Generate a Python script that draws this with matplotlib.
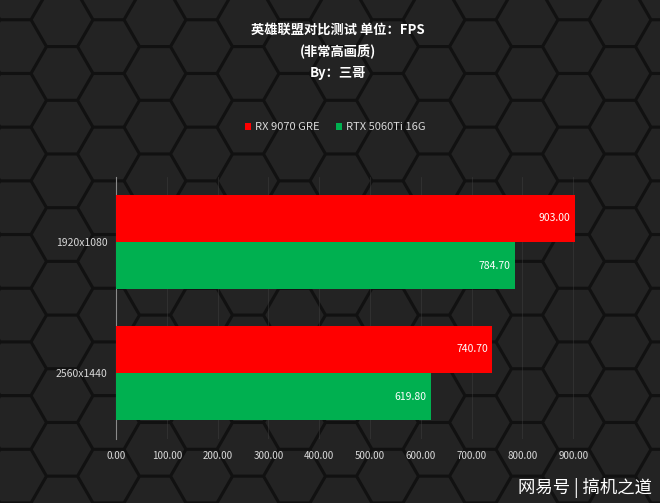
import numpy as np
import matplotlib
matplotlib.use("Agg")
import matplotlib.pyplot as plt
from matplotlib.patches import RegularPolygon

plt.rcParams['font.family'] = ['Noto Sans CJK SC', 'DejaVu Sans']

# 数据
resolutions = ['1920x1080', '2560x1440']
gpus = ['RX 9070 GRE', 'RTX 5060Ti 16G']
rx9070 = [903.00, 740.70]
rtx5060 = [784.70, 619.80]
xticks = [0, 100, 200, 300, 400, 500, 600, 700, 800, 900]

RED = '#ff0000'
GREEN = '#00b050'
TXT = '#d9d9d9'

W, H = 660, 503
fig = plt.figure(figsize=(W / 100, H / 100), dpi=100, facecolor='#111111')

# 背景蜂窝
bg = fig.add_axes([0, 0, 1, 1])
bg.set_xlim(0, W)
bg.set_ylim(0, H)
bg.axis('off')
r = 31
dx = 1.5 * r
dy = np.sqrt(3) * r
col = 0
x = -r
while x < W + 2 * r:
    off = dy / 2 if col % 2 else 0
    y = -dy + off
    while y < H + dy:
        hexa = RegularPolygon((x, y), 6, radius=r - 1.8, orientation=np.pi / 6,
                              facecolor='#232323', edgecolor='none')
        bg.add_patch(hexa)
        y += dy
    x += dx
    col += 1

# 主图
ax = fig.add_axes([116 / W, 1 - 438.5 / H, 508 / W, 262 / H])
ax.set_facecolor('none')
ypos = np.arange(len(resolutions))
h = 0.36
b1 = ax.barh(ypos - h / 2, rx9070, height=h, color=RED, label=gpus[0], zorder=3)
b2 = ax.barh(ypos + h / 2, rtx5060, height=h, color=GREEN, label=gpus[1], zorder=3)

for bars in (b1, b2):
    for bar in bars:
        v = bar.get_width()
        ax.text(v - 8, bar.get_y() + bar.get_height() / 2, f'{v:.2f}',
                ha='right', va='center', color='white', fontsize=7.5, zorder=4)

ax.set_xlim(0, 1000)
ax.set_ylim(1.5, -0.5)
ax.set_yticks(ypos)
ax.set_yticklabels(resolutions, color=TXT, fontsize=7.5)
ax.set_xticks(xticks)
ax.set_xticklabels([f'{t:.2f}' for t in xticks], color=TXT, fontsize=7)
ax.tick_params(axis='both', length=0, pad=6)
ax.tick_params(axis='x', pad=9)
ax.grid(axis='x', color='#4a4a4a', linewidth=0.5, alpha=0.5, zorder=1)
for s in ['top', 'right', 'bottom']:
    ax.spines[s].set_visible(False)
ax.spines['left'].set_color('#8a8a8a')
ax.spines['left'].set_linewidth(0.8)

# 标题
fig.text(338 / W, 1 - 30 / H, '英雄联盟对比测试 单位：FPS', ha='center', va='center',
         color='white', fontsize=9.5, fontweight='bold')
fig.text(338 / W, 1 - 52 / H, '(非常高画质)', ha='center', va='center',
         color='white', fontsize=9.5, fontweight='bold')
fig.text(338 / W, 1 - 73 / H, 'By：三哥', ha='center', va='center',
         color='white', fontsize=9.5, fontweight='bold')

leg = fig.legend(handles=[b1, b2], loc='center', bbox_to_anchor=(335 / W, 1 - 127 / H),
                 ncol=2, frameon=False, fontsize=8, handlelength=0.6, handleheight=0.6,
                 handletextpad=0.3, columnspacing=1.5)
for t in leg.get_texts():
    t.set_color(TXT)

# 水印
fig.text(652 / W, 1 - 488 / H, '网易号 | 搞机之道', ha='right', va='center',
         color='white', fontsize=12.5)

fig.savefig('out.png', dpi=100, facecolor=fig.get_facecolor())
